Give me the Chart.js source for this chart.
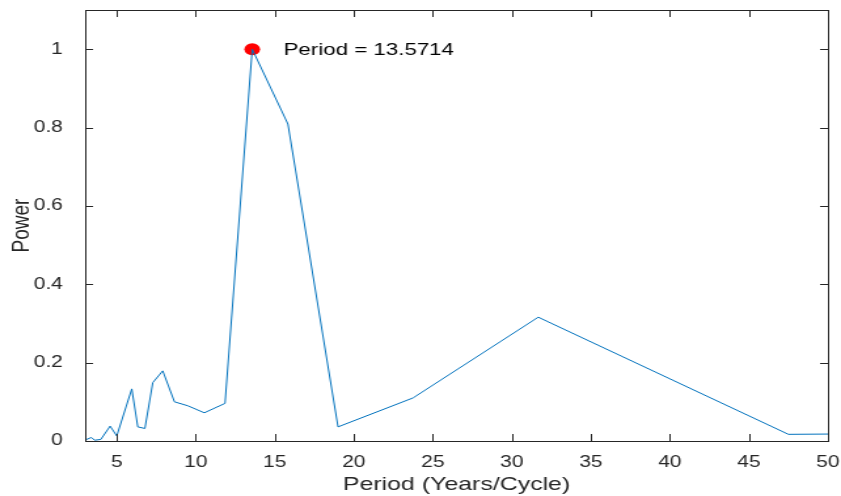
<!DOCTYPE html>
<html lang="en">
<head>
    <meta charset="UTF-8">
    <title>Periodogram</title>
    <style>
        body { margin: 0; padding: 0; background: #ffffff; overflow: hidden; }
        /* the figure is drawn narrower and stretched to the page width, like the exported original */
        #plot { display: block; transform: scaleX(1.31); transform-origin: 0 0; }
    </style>
    <script src="https://cdn.jsdelivr.net/npm/chart.js"></script>
</head>
<body>
    <canvas id="plot" width="642" height="496"></canvas>

    <script>
        // periods (years/cycle) and normalised power
        const periods = [3.03, 3.39, 3.6, 3.99, 4.58, 5.0, 5.95, 6.33, 6.78, 7.28, 7.91, 8.65, 9.49, 10.54, 11.85, 13.5714, 15.83, 19.0, 23.75, 31.67, 47.5, 95];
        const power   = [0.003, 0.009, 0.002, 0.004, 0.038, 0.013, 0.133, 0.036, 0.032, 0.149, 0.179, 0.100, 0.090, 0.072, 0.096, 1.0, 0.809, 0.036, 0.110, 0.316, 0.017, 0.03];

        const peakPeriod = 13.5714;
        const peakPower = 1;
        const peakLabel = 'Period = 13.5714';

        const xTicks = [5, 10, 15, 20, 25, 30, 35, 40, 45, 50];
        const yTicks = [0, 0.2, 0.4, 0.6, 0.8, 1];

        const FONT = '"Liberation Sans", Arial, Helvetica, sans-serif';
        const TEXT = '#262626';

        // box round the axes plus inward tick marks on all four sides, and the peak label
        const boxPlugin = {
            id: 'box',
            afterDatasetsDraw(chart) {
                const { ctx, chartArea: a, scales } = chart;
                ctx.save();
                ctx.strokeStyle = '#262626';
                ctx.lineWidth = 1;
                ctx.strokeRect(Math.round(a.left) + 0.5, Math.round(a.top) + 0.5,
                               Math.round(a.right - a.left), Math.round(a.bottom - a.top));
                ctx.beginPath();
                scales.x.ticks.forEach(t => {
                    const px = Math.round(scales.x.getPixelForValue(t.value)) + 0.5;
                    ctx.moveTo(px, a.bottom); ctx.lineTo(px, a.bottom - 7);
                    ctx.moveTo(px, a.top); ctx.lineTo(px, a.top + 7);
                });
                scales.y.ticks.forEach(t => {
                    const py = Math.round(scales.y.getPixelForValue(t.value)) + 0.5;
                    ctx.moveTo(a.left, py); ctx.lineTo(a.left + 6, py);
                    ctx.moveTo(a.right, py); ctx.lineTo(a.right - 6, py);
                });
                ctx.stroke();

                const px = scales.x.getPixelForValue(peakPeriod);
                const py = scales.y.getPixelForValue(peakPower);
                ctx.fillStyle = '#000000';
                ctx.font = '17px ' + FONT;
                ctx.textBaseline = 'middle';
                ctx.textAlign = 'left';
                ctx.fillText(peakLabel, px + 24, py + 1);
                ctx.restore();
            }
        };

        new Chart(document.getElementById('plot'), {
            type: 'scatter',
            data: {
                datasets: [{
                    data: periods.map((p, i) => ({ x: p, y: power[i] })),
                    showLine: true,
                    borderColor: '#0072BD',
                    borderWidth: 1,
                    pointRadius: 0,
                    tension: 0
                }, {
                    data: [{ x: peakPeriod, y: peakPower }],
                    pointRadius: 6,
                    pointBackgroundColor: '#ff0000',
                    pointBorderColor: '#ff0000',
                    pointBorderWidth: 0,
                    showLine: false
                }]
            },
            options: {
                responsive: false,
                animation: false,
                devicePixelRatio: 1,
                layout: { padding: { top: 10, right: 10, left: 0, bottom: 0 } },
                plugins: { legend: { display: false }, tooltip: { enabled: false } },
                scales: {
                    x: {
                        type: 'linear',
                        min: 3,
                        max: 50,
                        afterBuildTicks: s => { s.ticks = xTicks.map(v => ({ value: v })); },
                        afterFit: s => { s.height = 55; s.paddingLeft = 0; s.paddingRight = 0; },
                        grid: { display: false },
                        border: { display: false },
                        ticks: { color: TEXT, font: { family: FONT, size: 16 }, padding: 4, maxRotation: 0, autoSkip: false },
                        title: { display: true, text: 'Period (Years/Cycle)', color: TEXT, font: { family: FONT, size: 19 }, padding: { top: 0, bottom: 0 } }
                    },
                    y: {
                        type: 'linear',
                        min: 0,
                        max: 1.1,
                        afterBuildTicks: s => { s.ticks = yTicks.map(v => ({ value: v })); },
                        afterFit: s => { s.width = 65; s.paddingTop = 0; s.paddingBottom = 0; },
                        grid: { display: false },
                        border: { display: false },
                        ticks: { color: TEXT, font: { family: FONT, size: 16 }, padding: 9, callback: v => String(v) },
                        title: { display: true, text: 'Power', color: TEXT, font: { family: FONT, size: 19 }, padding: { top: 5, bottom: 0 } }
                    }
                }
            },
            plugins: [boxPlugin]
        });
    </script>
</body>
</html>
